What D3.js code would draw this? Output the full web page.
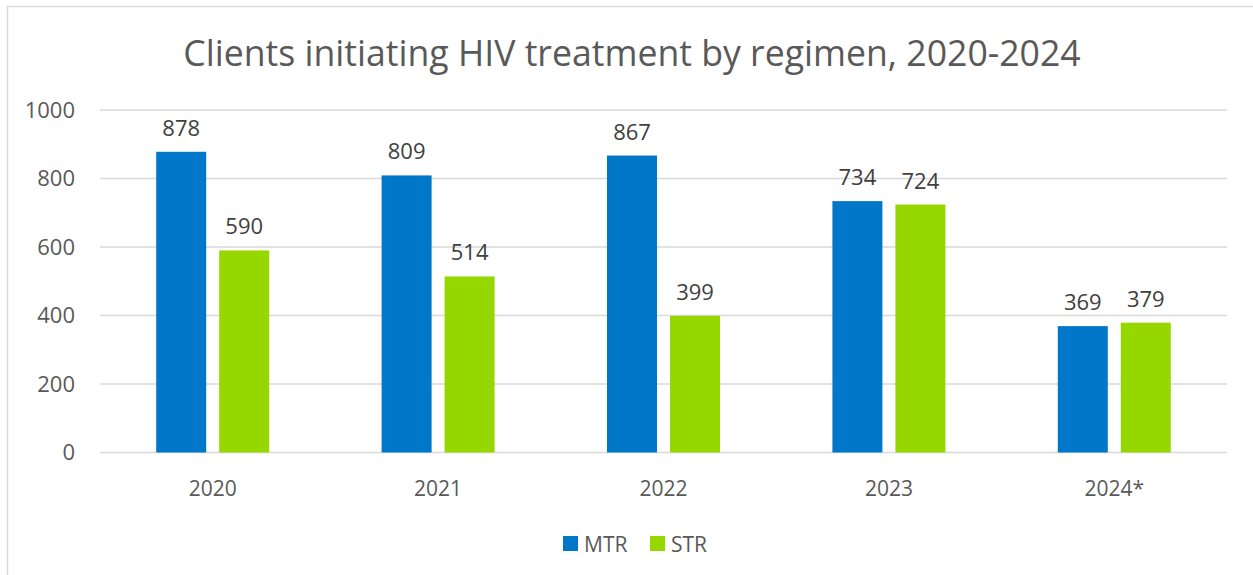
<!DOCTYPE html>
<html lang="en">
<head>
<meta charset="UTF-8">
<title>Clients initiating HIV treatment by regimen</title>
<script src="https://d3js.org/d3.v7.min.js"></script>
<style>
  body { margin: 0; background: #fff; }
  svg text { font-family: "Open Sans", "Noto Sans", sans-serif; }
</style>
</head>
<body>
<div id="chart"></div>
<script>
// data
var years = ["2020", "2021", "2022", "2023", "2024*"];
var seriesNames = ["MTR", "STR"];
var mtr = [878, 809, 867, 734, 369];
var str = [590, 514, 399, 724, 379];
var yTicks = [0, 200, 400, 600, 800, 1000];
var colors = ["#0077C8", "#97D700"];

var W = 1253, H = 575;
var margin = {top: 110, right: 26, bottom: 122.5, left: 100};
var width = W - margin.left - margin.right,
    height = H - margin.top - margin.bottom;

var svg = d3.select("#chart").append("svg")
    .attr("width", W)
    .attr("height", H);

// outer frame
svg.append("rect")
    .attr("x", 7.5).attr("y", 6.5)
    .attr("width", W + 10).attr("height", H + 10)
    .attr("fill", "none")
    .attr("stroke", "#d9d9d9")
    .attr("stroke-width", 1.5);

var title = svg.append("text")
    .attr("x", 632).attr("y", 66)
    .attr("text-anchor", "middle")
    .attr("fill", "#595959")
    .style("font-size", "32px")
    .text("Clients initiating HIV treatment by regimen, 2020-2024");
// squeeze to the width in the picture
var tw = title.node().getComputedTextLength();
title.style("font-size", (32 * 898 / tw) + "px");

var g = svg.append("g")
    .attr("transform", "translate(" + margin.left + "," + margin.top + ")");

var x = d3.scaleBand().domain(years).range([0, width]);
var y = d3.scaleLinear().domain([0, 1000]).range([height, 0]);

var barW = 50, gap = 13;
var xSub = d3.scaleOrdinal().domain(seriesNames)
    .range([-(barW + gap / 2), gap / 2]);

// gridlines
g.append("g")
    .selectAll("line")
    .data(yTicks)
    .join("line")
    .attr("x1", 0).attr("x2", width)
    .attr("y1", function(d) { return y(d); })
    .attr("y2", function(d) { return y(d); })
    .attr("stroke", "#d9d9d9")
    .attr("stroke-width", 1.5);

// y axis labels
var yAxis = g.append("g")
    .attr("transform", "translate(-25,0)")
    .call(d3.axisLeft(y).tickValues(yTicks).tickFormat(d3.format("d")).tickSize(0).tickPadding(0));
yAxis.select(".domain").remove();
yAxis.selectAll("text")
    .attr("fill", "#595959")
    .style("font-size", "22px")
    .style("font-family", "'Open Sans', sans-serif");

// x axis labels
var xAxis = g.append("g")
    .attr("transform", "translate(0," + height + ")")
    .call(d3.axisBottom(x).tickSize(0).tickPadding(29));
xAxis.select(".domain").remove();
xAxis.selectAll("text")
    .attr("fill", "#595959")
    .style("font-size", "21px")
    .style("font-family", "'Open Sans', sans-serif");

var rows = years.map(function(yr, i) {
  return {year: yr, vals: [{key: "MTR", value: mtr[i]}, {key: "STR", value: str[i]}]};
});

var groups = g.append("g")
    .selectAll("g")
    .data(rows)
    .join("g")
    .attr("transform", function(d) { return "translate(" + (x(d.year) + x.bandwidth() / 2) + ",0)"; });

groups.selectAll("rect")
    .data(function(d) { return d.vals; })
    .join("rect")
    .attr("x", function(d) { return xSub(d.key); })
    .attr("y", function(d) { return y(d.value); })
    .attr("width", barW)
    .attr("height", function(d) { return height - y(d.value); })
    .attr("fill", function(d, i) { return colors[i]; });

groups.selectAll("text.lbl")
    .data(function(d) { return d.vals; })
    .join("text")
    .attr("class", "lbl")
    .attr("x", function(d) { return xSub(d.key) + barW / 2; })
    .attr("y", function(d) { return y(d.value) - 16; })
    .attr("text-anchor", "middle")
    .attr("fill", "#404040")
    .style("font-size", "22px")
    .text(function(d) { return d.value; });

// legend
var legend = svg.append("g");
var lx = [563, 650];
seriesNames.forEach(function(s, i) {
  legend.append("rect")
      .attr("x", lx[i]).attr("y", 536)
      .attr("width", 15).attr("height", 15)
      .attr("fill", colors[i]);
  legend.append("text")
      .attr("x", lx[i] + 21).attr("y", 551.5)
      .attr("fill", "#595959")
      .style("font-size", "21px")
      .text(s);
});
</script>
</body>
</html>
